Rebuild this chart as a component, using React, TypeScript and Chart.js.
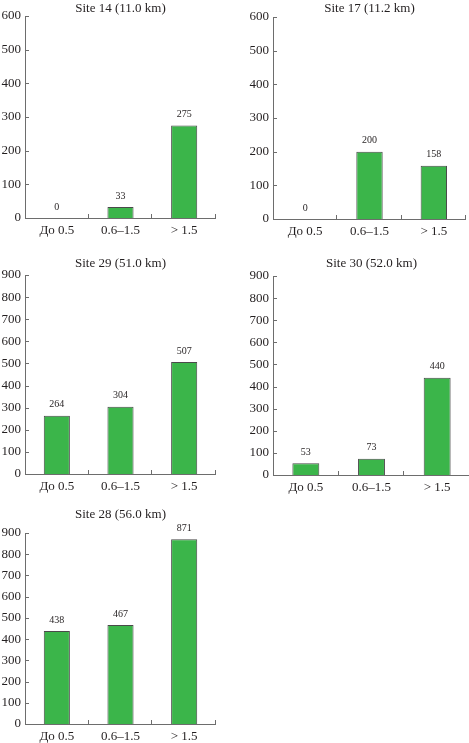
import { useEffect, useRef } from "react";
import { Chart, registerables } from "chart.js";

Chart.register(...registerables);

// size classes shared by every panel
const categories = ["До 0.5", "0.6–1.5", "> 1.5"];

const titles = [
  "Site 14 (11.0 km)",
  "Site 17 (11.2 km)",
  "Site 29 (51.0 km)",
  "Site 30 (52.0 km)",
  "Site 28 (56.0 km)",
];

const site14 = [0, 33, 275];
const site17 = [0, 200, 158];
const site29 = [264, 304, 507];
const site30 = [53, 73, 440];
const site28 = [438, 467, 871];

const yMaxTop = 600;
const yMaxLower = 900;
const yStep = 100;

const FONT = "'Liberation Serif', 'Times New Roman', serif";
const INK = "#231f20";
const AXIS = "#6d6d6d";

type Box = { left: number; top: number; w: number; h: number };
type Area = { l: number; t: number; r: number; b: number };

interface PanelProps {
  title: string;
  values: number[];
  yMax: number;
  box: Box;
  area: Area;
  titleY: number;
}

function Panel({ title, values, yMax, box, area, titleY }: PanelProps) {
  const canvasRef = useRef<HTMLCanvasElement>(null);
  const chartRef = useRef<Chart | null>(null);

  useEffect(() => {
    if (!canvasRef.current) return;
    if (chartRef.current) chartRef.current.destroy();

    // axis lines with inward tick marks
    const axesPlugin = {
      id: "axes",
      afterDraw(chart: Chart) {
        const { ctx, chartArea } = chart;
        const x = chart.scales.x;
        const y = chart.scales.y;
        ctx.save();
        ctx.strokeStyle = AXIS;
        ctx.lineWidth = 1;
        ctx.beginPath();
        ctx.moveTo(chartArea.left + 0.5, chartArea.top);
        ctx.lineTo(chartArea.left + 0.5, chartArea.bottom + 0.5);
        ctx.lineTo(chartArea.right, chartArea.bottom + 0.5);
        y.ticks.forEach((t) => {
          const py = Math.round(y.getPixelForValue(t.value)) + 0.5;
          ctx.moveTo(chartArea.left, py);
          ctx.lineTo(chartArea.left + 4, py);
        });
        for (let i = 0; i < categories.length; i++) {
          const px = Math.round(x.getPixelForValue(i + 0.5)) - 0.5;
          ctx.moveTo(px, chartArea.bottom + 0.5);
          ctx.lineTo(px, chartArea.bottom - 4);
        }
        ctx.stroke();
        ctx.restore();
      },
    };

    const valuePlugin = {
      id: "values",
      afterDatasetsDraw(chart: Chart) {
        const { ctx } = chart;
        const meta = chart.getDatasetMeta(0);
        ctx.save();
        ctx.fillStyle = INK;
        ctx.font = `10px ${FONT}`;
        ctx.textAlign = "center";
        ctx.textBaseline = "middle";
        meta.data.forEach((bar, i) => {
          ctx.fillText(String(values[i]), bar.x, bar.y - 11);
        });
        ctx.restore();
      },
    };

    const titlePlugin = {
      id: "panelTitle",
      afterDraw(chart: Chart) {
        const { ctx, chartArea } = chart;
        ctx.save();
        ctx.fillStyle = INK;
        ctx.font = `13px ${FONT}`;
        ctx.textAlign = "center";
        ctx.textBaseline = "middle";
        ctx.fillText(title, (chartArea.left + chartArea.right) / 2, titleY - box.top);
        ctx.restore();
      },
    };

    chartRef.current = new Chart(canvasRef.current, {
      type: "bar",
      data: {
        labels: categories,
        datasets: [
          {
            data: values,
            backgroundColor: "#3bb54a",
            borderColor: "#4a4a4a",
            borderWidth: 1,
            barPercentage: 0.41,
            categoryPercentage: 1,
          },
        ],
      },
      options: {
        animation: false,
        responsive: false,
        devicePixelRatio: 1,
        layout: {
          padding: {
            top: area.t - box.top,
            left: 0,
            right: box.left + box.w - area.r,
            bottom: 0,
          },
        },
        plugins: {
          legend: { display: false },
          tooltip: { enabled: false },
          title: { display: false },
        },
        scales: {
          x: {
            grid: { display: false, drawTicks: false },
            border: { display: false },
            ticks: { color: INK, font: { family: FONT, size: 13 }, padding: 5 },
            afterFit: (s: any) => {
              s.height = box.top + box.h - area.b;
            },
          },
          y: {
            min: 0,
            max: yMax,
            grid: { display: false, drawTicks: false },
            border: { display: false },
            ticks: { stepSize: yStep, color: INK, font: { family: FONT, size: 13 }, padding: 4 },
            afterFit: (s: any) => {
              s.width = area.l - box.left;
            },
          },
        },
      },
      plugins: [axesPlugin, valuePlugin, titlePlugin],
    });

    return () => {
      if (chartRef.current) {
        chartRef.current.destroy();
        chartRef.current = null;
      }
    };
  }, [title, values, yMax, box, area, titleY]);

  return (
    <canvas
      ref={canvasRef}
      width={box.w}
      height={box.h}
      style={{ position: "absolute", left: box.left, top: box.top, width: box.w, height: box.h }}
    />
  );
}

const panels: PanelProps[] = [
  {
    title: titles[0],
    values: site14,
    yMax: yMaxTop,
    box: { left: 0, top: 0, w: 235, h: 242 },
    area: { l: 25, t: 16, r: 216, b: 218 },
    titleY: 8.5,
  },
  {
    title: titles[1],
    values: site17,
    yMax: yMaxTop,
    box: { left: 235, top: 0, w: 234, h: 242 },
    area: { l: 273, t: 17, r: 466, b: 219 },
    titleY: 8.5,
  },
  {
    title: titles[2],
    values: site29,
    yMax: yMaxLower,
    box: { left: 0, top: 245, w: 235, h: 252 },
    area: { l: 25, t: 275, r: 216, b: 474 },
    titleY: 263.5,
  },
  {
    title: titles[3],
    values: site30,
    yMax: yMaxLower,
    box: { left: 235, top: 245, w: 240, h: 252 },
    area: { l: 273, t: 276, r: 470, b: 475 },
    titleY: 263.5,
  },
  {
    title: titles[4],
    values: site28,
    yMax: yMaxLower,
    box: { left: 0, top: 500, w: 235, h: 243 },
    area: { l: 25, t: 533, r: 216, b: 724 },
    titleY: 515,
  },
];

export default function App() {
  useEffect(() => {
    document.body.style.margin = "0";
  }, []);

  return (
    <div style={{ position: "relative", width: 469, height: 743, overflow: "hidden", background: "#fff" }}>
      {panels.map((p) => (
        <Panel key={p.title} {...p} />
      ))}
    </div>
  );
}
